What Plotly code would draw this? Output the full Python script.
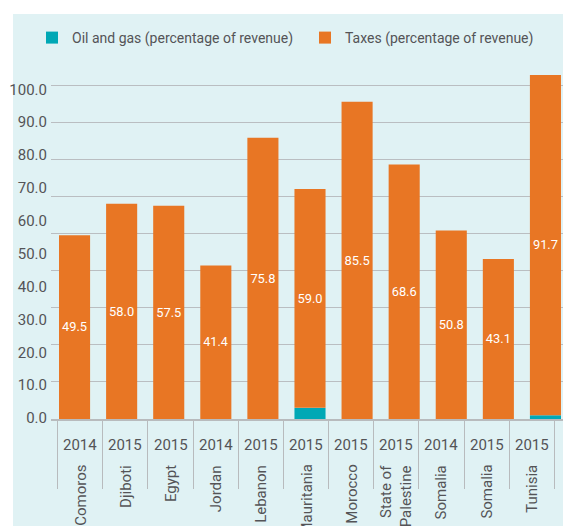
import plotly.graph_objects as go

countries = ["Comoros", "Djiboti", "Egypt", "Jordan", "Lebanon", "Mauritania", "Morocco",
             "State of<br>Palestine", "Somalia", "Somalia", "Tunisia"]
years = ["2014", "2015", "2015", "2014", "2015", "2015", "2015", "2015", "2014", "2015", "2015"]
oil_gas = [0, 0, 0, 0, 0, 3.0, 0, 0, 0, 0, 1.0]
taxes = [49.5, 58.0, 57.5, 41.4, 75.8, 59.0, 85.5, 68.6, 50.8, 43.1, 91.7]
tick_labels = ["0.0", "10.0", "20.0", "30.0", "40.0", "50.0", "60.0", "70.0", "80.0", "90.0", "100.0"]

FONT = "Roboto, Liberation Sans, sans-serif"
TXT = "#545457"
ORANGE = "#E87624"
TEAL = "#00A8B5"
BG = "#E0F2F4"
GRID = "#BABEC1"
LINE = "#B8BBBD"

cats = [f"{c}|{y}|{i}" for i, (c, y) in enumerate(zip(countries, years))]

fig = go.Figure()
fig.add_trace(go.Bar(x=cats, y=oil_gas, name="Oil and gas (percentage of revenue)\u00a0\u00a0",
                     marker=dict(color=TEAL, line=dict(width=0))))
fig.add_trace(go.Bar(x=cats, y=taxes, name="Taxes (percentage of revenue)",
                     marker=dict(color=ORANGE, line=dict(width=0)),
                     text=[f"{v:.1f}" for v in taxes], textposition="inside",
                     insidetextanchor="middle", textangle=0,
                     insidetextfont=dict(color="white", size=15, family=FONT)))

# invisible trace carrying the label axes (y tick labels and category label boxes)
fig.add_trace(go.Scatter(x=cats, y=[0] * len(cats), xaxis="x2", yaxis="y2", mode="markers",
                         marker=dict(opacity=0), showlegend=False, hoverinfo="skip"))

OFF = 8  # page body margin
PAGE_W, PAGE_H = 571, 526
W, H = PAGE_W - OFF, PAGE_H - OFF
PL, PR, PT, PB = 51, 569, 74, 419  # plot area in page pixels
BOX_R = 561  # right edge of category label boxes
L, R, T, B = PL - OFF, PAGE_W - PR, PT - OFF, PAGE_H - PB
pw, ph = PR - PL, PB - PT


def px_x(x):
    return (x - PL) / pw


def px_y(y):
    return (PB - y) / ph


annotations = []
for c, y, k in zip(countries, years, cats):
    annotations.append(dict(x=k, xref="x2", y=0, yref="paper", yanchor="middle", yshift=-26,
                            text=y, showarrow=False, font=dict(size=15, color=TXT, family=FONT)))
    annotations.append(dict(x=k, xref="x2", y=0, yref="paper", yanchor="top", yshift=-44,
                            text=c, textangle=-90, align="right", showarrow=False,
                            font=dict(size=15, color=TXT, family=FONT)))

fig.update_layout(
    width=W, height=H,
    margin=dict(l=L, r=R, t=T, b=B, autoexpand=False),
    barmode="relative", bargap=0.34,
    paper_bgcolor="white", plot_bgcolor="rgba(0,0,0,0)",
    font=dict(family=FONT, color=TXT, size=15),
    showlegend=True,
    legend=dict(orientation="h", x=px_x(32), y=px_y(22), xanchor="left", yanchor="top",
                itemwidth=30, font=dict(size=14, color=TXT, family=FONT),
                bgcolor="rgba(0,0,0,0)", traceorder="normal"),
    xaxis=dict(type="category", showticklabels=False, ticks="", showline=True,
               linecolor=LINE, linewidth=1.5, showgrid=False, zeroline=False,
               automargin=False),
    xaxis2=dict(type="category", domain=[0, px_x(BOX_R)], anchor="y2", showticklabels=False,
                ticks="outside", tickson="boundaries", ticklen=69, tickcolor=LINE,
                tickwidth=1.2, showline=False, showgrid=False, zeroline=False,
                automargin=False),
    yaxis=dict(range=[0, 93], dtick=10, showticklabels=False, showgrid=True,
               gridcolor=GRID, gridwidth=1.3, zeroline=False, ticks="", automargin=False),
    yaxis2=dict(overlaying="y", side="left", anchor="x", range=[-0.3, 104.65],
                tickvals=[i * 10 for i in range(len(tick_labels))], ticktext=tick_labels,
                showgrid=False, zeroline=False, ticks="", ticklabelstandoff=3,
                automargin=False, tickfont=dict(size=15, color=TXT, family=FONT)),
    shapes=[dict(type="rect", xref="paper", yref="paper", layer="below",
                 x0=px_x(13), x1=px_x(PAGE_W + 5), y0=px_y(PAGE_H + 5), y1=px_y(14),
                 fillcolor=BG, line=dict(width=0))],
    annotations=annotations,
)

fig.write_html("out.html")
